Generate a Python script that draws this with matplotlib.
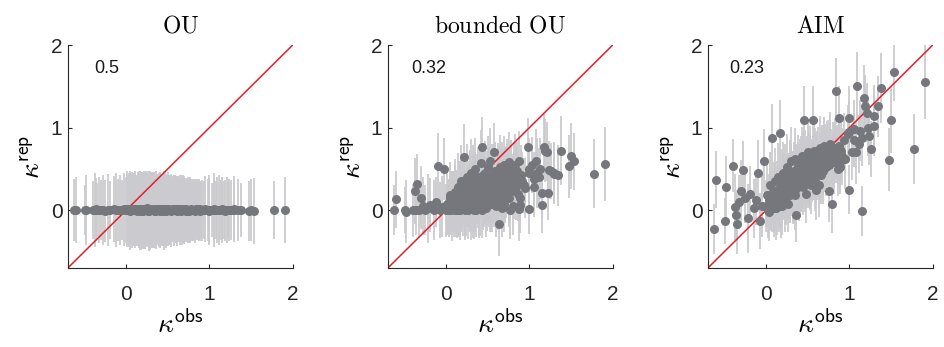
import numpy as np
import matplotlib
matplotlib.use('Agg')
import matplotlib.pyplot as plt

plt.rcParams['font.family'] = ['Liberation Sans', 'DejaVu Sans']
plt.rcParams['mathtext.fontset'] = 'cm'

# observed kappa (shared by the three panels)
k_obs = [
    -0.63, -0.60, -0.49, -0.48, -0.40, -0.37, -0.36, -0.35, -0.33, -0.30,
    -0.28, -0.25, -0.22, -0.19, -0.15, -0.12, -0.10, -0.08, -0.05, -0.03,
    0.00, 0.01, 0.03, 0.04, 0.05, 0.07, 0.08, 0.09, 0.10, 0.11,
    0.12, 0.13, 0.14, 0.15, 0.16, 0.17, 0.18, 0.19, 0.20, 0.21,
    0.22, 0.23, 0.24, 0.25, 0.26, 0.27, 0.28, 0.29, 0.30, 0.31,
    0.32, 0.33, 0.34, 0.35, 0.36, 0.37, 0.38, 0.39, 0.40, 0.41,
    0.42, 0.43, 0.44, 0.45, 0.46, 0.47, 0.48, 0.49, 0.50, 0.51,
    0.52, 0.53, 0.54, 0.55, 0.56, 0.57, 0.58, 0.59, 0.60, 0.61,
    0.62, 0.63, 0.64, 0.65, 0.66, 0.67, 0.68, 0.69, 0.70, 0.71,
    0.72, 0.73, 0.74, 0.75, 0.76, 0.77, 0.78, 0.79, 0.80, 0.81,
    0.82, 0.83, 0.84, 0.85, 0.86, 0.87, 0.88, 0.89, 0.90, 0.91,
    0.06, 0.11, 0.16, 0.21, 0.26, 0.31, 0.36, 0.41, 0.46, 0.51,
    0.09, 0.14, 0.19, 0.24, 0.29, 0.34, 0.39, 0.44, 0.49, 0.54,
    0.57, 0.61, 0.64, 0.67, 0.71, 0.74, 0.77, 0.82, 0.86, 0.89,
    0.03, 0.13, 0.18, 0.23, 0.28, 0.33, 0.38, 0.43, 0.48, 0.53,
    0.02, 0.07, 0.12, 0.17, 0.22, 0.27, 0.32, 0.37, 0.42, 0.47,
    0.52, 0.57, 0.62, 0.67, 0.72, 0.77, 0.80, 0.84, 0.28, 0.35,
    0.10, 0.15, 0.20, 0.25, 0.30, 0.35, 0.40, 0.45, 0.50, 0.55,
    0.60, 0.65, 0.70, 0.75, 0.05, 0.18, 0.32, 0.44, 0.58, 0.68,
    0.93, 0.95, 0.98, 0.99, 1.00, 1.00, 1.03, 1.06, 1.06, 1.08,
    1.09, 1.11, 1.13, 1.15, 1.15, 1.17, 1.19, 1.21, 1.22, 1.23,
    1.26, 1.29, 1.30, 1.34, 1.38, 1.48, 1.50, 1.54, 1.77, 1.91,
]

# replicated kappa, OU model
k_rep_ou = [
    0.00, 0.00, 0.00, 0.00, 0.00, 0.00, 0.01, 0.00, 0.00, 0.00,
    0.00, -0.01, 0.00, 0.00, 0.01, 0.00, 0.00, 0.00, 0.00, 0.01,
    0.00, 0.01, 0.00, -0.01, 0.00, 0.01, 0.00, 0.00, 0.01, 0.00,
    0.00, -0.01, 0.01, 0.00, 0.00, 0.00, 0.01, 0.00, -0.01, 0.00,
    0.01, 0.00, 0.00, 0.02, 0.00, -0.01, 0.00, 0.01, 0.00, 0.00,
    0.00, 0.01, -0.01, 0.00, 0.00, 0.01, 0.00, 0.00, -0.01, 0.00,
    0.01, 0.00, 0.00, 0.00, 0.01, -0.01, 0.00, 0.00, 0.01, 0.00,
    0.00, 0.00, -0.01, 0.01, 0.00, 0.00, 0.00, 0.01, 0.00, -0.01,
    0.00, 0.01, 0.00, 0.00, -0.01, 0.00, 0.01, 0.00, 0.00, 0.00,
    0.01, 0.00, 0.00, -0.01, 0.00, 0.00, 0.01, 0.00, 0.00, 0.00,
    0.00, -0.01, 0.00, 0.01, 0.00, 0.00, 0.00, -0.01, 0.00, 0.00,
    0.00, 0.01, 0.00, 0.00, -0.01, 0.00, 0.00, 0.01, 0.00, 0.00,
    0.01, 0.00, 0.00, 0.00, 0.00, -0.01, 0.00, 0.00, 0.01, 0.00,
    0.00, 0.00, 0.01, 0.00, 0.00, -0.01, 0.00, 0.00, 0.00, 0.01,
    0.00, 0.00, -0.01, 0.00, 0.01, 0.00, 0.00, 0.00, -0.01, 0.00,
    0.01, 0.00, 0.00, -0.01, 0.00, 0.01, 0.00, 0.00, 0.00, 0.01,
    0.00, 0.00, 0.01, 0.00, -0.01, 0.00, 0.00, 0.01, 0.00, 0.00,
    0.00, 0.01, 0.00, 0.00, 0.00, -0.01, 0.00, 0.01, 0.00, 0.00,
    0.01, 0.00, 0.00, 0.00, 0.00, 0.01, 0.00, -0.01, 0.00, 0.00,
    0.00, 0.01, 0.00, 0.00, 0.00, -0.01, 0.00, 0.00, 0.01, 0.00,
    0.00, 0.00, 0.00, 0.01, 0.00, 0.00, -0.01, 0.00, 0.00, 0.00,
    0.00, 0.01, 0.00, 0.00, 0.00, -0.01, 0.00, -0.01, 0.00, 0.00,
]

# replicated kappa, bounded OU model
k_rep_bou = [
    0.00, 0.13, 0.00, -0.02, 0.00, 0.23, 0.00, 0.32, 0.00, 0.15,
    0.05, 0.00, 0.02, 0.06, 0.00, 0.10, 0.53, 0.00, 0.04, 0.50,
    0.00, 0.08, 0.02, 0.18, 0.00, 0.05, 0.12, 0.00, 0.22, 0.03,
    0.10, 0.00, 0.28, 0.06, 0.15, 0.00, 0.35, 0.08, 0.20, 0.64,
    0.02, 0.25, 0.12, 0.40, 0.00, 0.18, 0.30, 0.08, 0.45, 0.22,
    0.05, 0.35, 0.15, 0.50, 0.00, 0.28, 0.40, 0.12, 0.25, 0.32,
    0.57, 0.77, 0.10, 0.38, 0.20, 0.45, 0.03, 0.30, 0.52, 0.15,
    0.35, 0.59, 0.08, 0.42, 0.25, 0.70, 0.18, 0.48, 0.05, 0.33,
    0.45, -0.17, 0.28, 0.52, 0.12, 0.38, 0.22, 0.55, 0.30, 0.42,
    0.25, 0.48, 0.35, 0.58, 0.15, 0.40, 0.52, 0.30, 0.05, 0.45,
    0.38, 0.55, 0.28, 0.48, 0.20, 0.60, 0.01, 0.06, 0.43, 0.35,
    0.05, 0.15, 0.02, 0.30, 0.18, 0.10, 0.22, 0.05, 0.28, 0.38,
    0.12, 0.00, 0.20, 0.05, 0.35, 0.20, 0.02, 0.42, 0.10, 0.20,
    0.28, 0.10, 0.40, 0.02, 0.18, 0.32, 0.00, 0.25, 0.38, 0.15,
    0.00, 0.05, 0.10, 0.00, 0.08, 0.00, 0.15, 0.00, 0.20, 0.08,
    0.04, 0.10, 0.14, 0.08, 0.12, 0.22, 0.26, 0.18, 0.30, 0.24,
    0.32, 0.38, 0.20, 0.45, 0.40, 0.22, 0.35, 0.42, 0.35, 0.12,
    0.18, 0.25, 0.08, 0.15, 0.02, 0.30, 0.38, 0.15, 0.22, 0.10,
    0.15, 0.30, 0.08, 0.22, 0.15, 0.28, 0.42, 0.35, 0.45, 0.28,
    0.30, 0.27, 0.77, 0.50, 0.01, 0.45, 0.55, 0.28, 0.38, 0.60,
    0.45, 0.40, 0.50, 0.21, 0.06, 0.76, 0.72, 0.71, 0.21, 0.49,
    0.47, 0.45, 0.44, 0.42, 0.72, 0.53, 0.66, 0.59, 0.44, 0.56,
]

# replicated kappa, AIM model
k_rep_aim = [
    -0.23, 0.37, -0.13, 0.28, 0.54, 0.04, -0.06, -0.17, 0.10, 0.23,
    0.49, 0.15, -0.10, 0.20, 0.02, 0.12, 0.45, -0.13, 0.05, 0.60,
    0.05, 0.18, -0.02, 0.30, 0.10, 0.87, 0.22, 0.08, 0.35, 0.12,
    0.02, 0.25, 0.40, 0.15, 0.94, 0.10, 0.30, 0.05, 0.45, 0.28,
    0.20, 0.38, 0.15, 0.52, 0.08, 0.30, 0.42, 0.22, 0.60, 0.35,
    0.25, 0.48, 0.18, 0.62, -0.06, 0.40, 0.55, 0.30, 0.45, 0.38,
    0.50, 0.65, 0.28, 1.09, 0.35, 0.58, 0.20, 0.48, 0.70, 0.40,
    0.55, 0.62, 0.30, 0.48, 1.09, 0.72, 0.38, 0.60, 0.25, 0.52,
    0.65, 0.30, 0.58, 0.75, 0.42, 0.55, 0.48, 0.78, 0.60, 0.68,
    0.52, 0.70, 0.62, 0.23, 0.55, 0.80, 0.65, 0.08, 0.72, 0.58,
    0.62, 0.75, 1.44, 0.68, 0.50, 0.78, 1.12, 0.58, 0.72, 0.65,
    0.08, 0.15, 0.20, 0.25, 0.32, 0.28, 0.35, 0.50, 0.42, 0.58,
    0.02, 0.18, 0.12, 0.28, 0.38, 0.32, 0.42, 0.40, 0.55, 0.45,
    0.48, 0.62, 0.52, 0.68, 0.55, 0.72, 0.60, 0.70, 0.66, 0.52,
    0.12, 0.05, 0.22, 0.10, 0.18, 0.25, 0.28, 0.32, 0.38, 0.35,
    0.00, 0.10, 0.15, 0.22, 0.18, 0.28, 0.32, 0.36, 0.35, 0.45,
    0.48, 0.55, 0.50, 0.62, 0.64, 0.70, 0.60, 0.68, 0.22, 0.45,
    0.20, 0.08, 0.30, 0.20, 0.42, 0.25, 0.30, 0.48, 0.40, 0.50,
    0.42, 0.48, 0.72, 0.60, 0.15, 0.05, 0.20, 0.58, 0.65, 0.52,
    0.85, 0.62, 0.92, 1.12, 0.25, 0.95, 0.70, 0.98, 0.85, 0.70,
    1.50, 0.80, 0.96, -0.01, 0.88, 1.36, 1.26, 1.18, 0.99, 0.90,
    0.74, 1.14, 1.02, 1.26, 1.48, 0.61, 1.09, 1.67, 0.74, 1.55,
]

# half-length of the light grey bars
err_ou = [
    0.38, 0.40, 0.30, 0.42, 0.35, 0.45, 0.38, 0.33, 0.40, 0.36,
    0.42, 0.38, 0.44, 0.35, 0.40, 0.45, 0.38, 0.42, 0.36, 0.44,
    0.40, 0.46, 0.38, 0.42, 0.48, 0.36, 0.44, 0.40, 0.47, 0.39,
    0.43, 0.37, 0.45, 0.41, 0.48, 0.38, 0.44, 0.42, 0.46, 0.40,
    0.39, 0.47, 0.42, 0.45, 0.38, 0.49, 0.41, 0.44, 0.40, 0.46,
    0.42, 0.38, 0.45, 0.40, 0.47, 0.43, 0.39, 0.44, 0.41, 0.46,
    0.40, 0.44, 0.38, 0.42, 0.46, 0.39, 0.43, 0.41, 0.45, 0.38,
    0.42, 0.37, 0.44, 0.40, 0.38, 0.43, 0.36, 0.41, 0.39, 0.42,
    0.37, 0.40, 0.36, 0.42, 0.38, 0.35, 0.41, 0.37, 0.39, 0.36,
    0.38, 0.35, 0.40, 0.37, 0.34, 0.39, 0.36, 0.38, 0.35, 0.37,
    0.36, 0.39, 0.34, 0.37, 0.35, 0.38, 0.33, 0.36, 0.34, 0.37,
    0.42, 0.45, 0.40, 0.47, 0.43, 0.46, 0.41, 0.44, 0.48, 0.42,
    0.44, 0.40, 0.46, 0.42, 0.48, 0.41, 0.45, 0.43, 0.39, 0.44,
    0.38, 0.41, 0.37, 0.40, 0.36, 0.39, 0.35, 0.38, 0.36, 0.34,
    0.45, 0.42, 0.47, 0.41, 0.44, 0.46, 0.40, 0.43, 0.45, 0.41,
    0.43, 0.46, 0.41, 0.44, 0.47, 0.42, 0.45, 0.40, 0.44, 0.46,
    0.41, 0.43, 0.39, 0.42, 0.38, 0.40, 0.37, 0.36, 0.45, 0.43,
    0.44, 0.47, 0.42, 0.45, 0.40, 0.44, 0.46, 0.41, 0.43, 0.39,
    0.40, 0.38, 0.41, 0.37, 0.45, 0.43, 0.46, 0.42, 0.39, 0.40,
    0.35, 0.40, 0.38, 0.42, 0.36, 0.40, 0.33, 0.45, 0.38, 0.35,
    0.40, 0.42, 0.36, 0.38, 0.40, 0.35, 0.37, 0.40, 0.34, 0.38,
    0.36, 0.40, 0.35, 0.38, 0.33, 0.36, 0.38, 0.40, 0.35, 0.40,
]

err_fit = [
    0.30, 0.35, 0.28, 0.38, 0.32, 0.40, 0.30, 0.36, 0.33, 0.38,
    0.35, 0.30, 0.42, 0.33, 0.36, 0.30, 0.40, 0.34, 0.37, 0.38,
    0.32, 0.38, 0.35, 0.40, 0.30, 0.42, 0.36, 0.33, 0.40, 0.35,
    0.38, 0.34, 0.41, 0.36, 0.40, 0.32, 0.44, 0.35, 0.38, 0.40,
    0.36, 0.42, 0.33, 0.40, 0.35, 0.38, 0.43, 0.34, 0.41, 0.36,
    0.39, 0.35, 0.42, 0.37, 0.33, 0.40, 0.36, 0.43, 0.35, 0.38,
    0.40, 0.36, 0.34, 0.41, 0.37, 0.39, 0.35, 0.42, 0.38, 0.36,
    0.37, 0.40, 0.35, 0.38, 0.41, 0.36, 0.39, 0.34, 0.37, 0.40,
    0.36, 0.38, 0.35, 0.39, 0.34, 0.37, 0.40, 0.35, 0.38, 0.36,
    0.35, 0.38, 0.34, 0.37, 0.36, 0.39, 0.33, 0.36, 0.35, 0.38,
    0.34, 0.37, 0.40, 0.35, 0.33, 0.36, 0.38, 0.34, 0.36, 0.35,
    0.33, 0.36, 0.38, 0.34, 0.37, 0.35, 0.39, 0.36, 0.34, 0.37,
    0.35, 0.33, 0.37, 0.36, 0.38, 0.34, 0.36, 0.39, 0.35, 0.37,
    0.36, 0.34, 0.38, 0.35, 0.33, 0.37, 0.35, 0.36, 0.34, 0.33,
    0.32, 0.35, 0.34, 0.36, 0.33, 0.35, 0.37, 0.34, 0.36, 0.35,
    0.34, 0.37, 0.35, 0.39, 0.36, 0.38, 0.40, 0.35, 0.37, 0.39,
    0.36, 0.38, 0.34, 0.37, 0.35, 0.36, 0.33, 0.35, 0.38, 0.36,
    0.37, 0.35, 0.39, 0.36, 0.38, 0.40, 0.37, 0.35, 0.38, 0.36,
    0.35, 0.37, 0.34, 0.36, 0.38, 0.39, 0.37, 0.36, 0.35, 0.34,
    0.33, 0.36, 0.35, 0.38, 0.30, 0.37, 0.34, 0.36, 0.33, 0.38,
    0.42, 0.35, 0.37, 0.30, 0.34, 0.40, 0.38, 0.36, 0.33, 0.35,
    0.34, 0.38, 0.36, 0.37, 0.42, 0.38, 0.40, 0.35, 0.42, 0.45,
]

titles = ['OU', 'bounded OU', 'AIM']
scores = ['0.5', '0.32', '0.23']
score_x = [-0.38, -0.42, -0.45]
panels = [(k_rep_ou, err_ou), (k_rep_bou, err_fit), (k_rep_aim, err_fit)]
lims = [-0.7, 2]

dot_col = '#76777d'
bar_col = '#cbcbcf'
line_col = '#e41e26'

fig = plt.figure(figsize=(9.44, 3.47), dpi=100)
lefts = [0.072, 0.411, 0.750]

for i, (rep, err) in enumerate(panels):
    ax = fig.add_axes([lefts[i], 0.228, 0.238, 0.642])
    ax.errorbar(k_obs, rep, yerr=err, fmt='none', ecolor=bar_col,
                elinewidth=1.3, capsize=0, zorder=1)
    ax.plot(lims, lims, color=line_col, lw=1.1, zorder=2)
    ax.plot(k_obs, rep, 'o', ms=6.5, color=dot_col, mec='none', zorder=3)

    ax.set_xlim(lims)
    ax.set_ylim(lims)
    ax.set_xticks([0, 1, 2])
    ax.set_yticks([0, 1, 2])
    ax.spines['top'].set_visible(False)
    ax.spines['right'].set_visible(False)
    for s in ['left', 'bottom']:
        ax.spines[s].set_color('#262626')
        ax.spines[s].set_linewidth(0.8)
    ax.tick_params(axis='both', direction='in', length=3, width=0.8,
                   color='#262626', labelsize=15, labelcolor='#262626')
    ax.tick_params(axis='x', pad=12)
    ax.tick_params(axis='y', pad=4)

    ax.set_title(r'$\mathrm{' + titles[i].replace(' ', r'\ ') + '}$',
                 fontsize=17, pad=9)
    ax.set_xlabel(r'$\kappa^{\mathsf{obs}}$', fontsize=20, labelpad=5)
    ax.set_ylabel(r'$\kappa^{\mathsf{rep}}$', fontsize=20, labelpad=3)
    ax.text(score_x[i], 1.72, scores[i], fontsize=13, ha='left',
            va='center', color='#1a1a1a')

fig.savefig('out.png', dpi=100)
